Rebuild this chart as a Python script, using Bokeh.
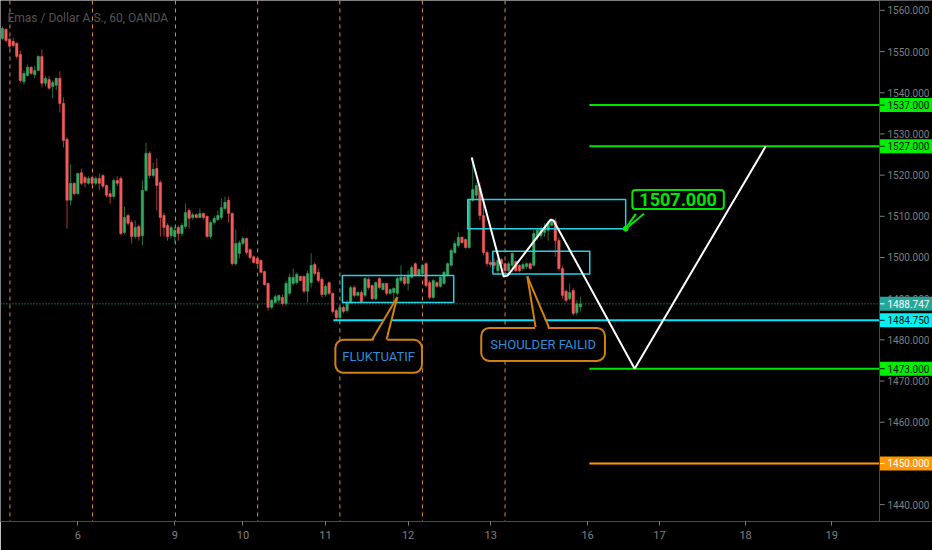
from bokeh.plotting import figure
from bokeh.models import Range1d, FixedTicker, Span, Label, ColumnDataSource
from bokeh.core.properties import value
from bokeh.embed import file_html
from bokeh.resources import INLINE

# ---------------- data ----------------
opens = [1553.2, 1555.4, 1553.0, 1552.5, 1552.0, 1549.3, 1542.7, 1544.2, 1546.2, 1544.4,
         1545.4, 1548.8, 1542.3, 1543.2, 1541.5, 1541.8, 1543.5, 1537.4, 1528.7, 1513.9,
         1518.0, 1515.5, 1520.6, 1519.4, 1518.0, 1519.4, 1518.0, 1519.2, 1519.9, 1517.5,
         1515.5, 1514.8, 1518.7, 1519.2, 1506.1, 1510.2, 1508.5, 1505.1, 1507.5, 1505.3,
         1516.3, 1525.3, 1519.9, 1521.6, 1518.2, 1510.2, 1507.8, 1505.3, 1505.1, 1507.3,
         1505.8, 1507.5, 1511.4, 1509.7, 1510.4, 1509.7, 1510.7, 1510.0, 1505.1, 1508.5,
         1509.2, 1509.7, 1511.9, 1513.9, 1510.7, 1498.5, 1501.0, 1503.4, 1504.6, 1501.9,
         1500.2, 1499.8, 1499.3, 1496.6, 1493.7, 1487.9, 1489.1, 1489.6, 1490.3, 1488.8,
         1491.3, 1493.7, 1493.9, 1495.4, 1495.4, 1491.8, 1493.9, 1498.3, 1496.4, 1494.7,
         1491.0, 1493.9, 1491.3, 1487.1, 1485.4, 1487.9, 1487.1, 1489.1, 1492.7, 1490.8,
         1491.5, 1490.8, 1494.7, 1493.2, 1490.0, 1494.9, 1492.2, 1493.7, 1491.3, 1491.5,
         1491.3, 1494.4, 1495.2, 1493.7, 1495.2, 1498.5, 1495.6, 1496.1, 1498.5, 1493.9,
         1490.3, 1493.9, 1493.0, 1493.7, 1495.6, 1498.1, 1501.2, 1502.9, 1504.9, 1504.4,
         1502.4, 1513.9, 1515.1, 1516.8, 1510.2, 1501.2, 1498.8, 1498.8, 1496.8, 1499.5,
         1498.5, 1496.8, 1498.1, 1499.0, 1498.1, 1497.3, 1497.8, 1498.5, 1498.1, 1504.9,
         1505.3, 1506.1, 1506.6, 1507.8, 1508.8, 1504.1, 1497.3, 1491.8, 1490.0, 1492.0,
         1486.6, 1488.0]
highs = [1556.1, 1555.6, 1553.4, 1553.4, 1552.2, 1550.3, 1545.4, 1546.9, 1546.4, 1546.6,
         1549.1, 1550.5, 1544.0, 1544.0, 1543.0, 1543.7, 1545.2, 1538.9, 1529.2, 1522.6,
         1518.2, 1520.6, 1521.6, 1519.9, 1519.7, 1519.9, 1519.7, 1520.4, 1520.2, 1517.7,
         1516.3, 1519.2, 1519.7, 1519.7, 1512.4, 1510.7, 1509.0, 1509.0, 1508.0, 1518.7,
         1527.9, 1525.8, 1523.1, 1524.0, 1518.7, 1510.9, 1508.3, 1507.8, 1507.8, 1507.8,
         1508.3, 1513.1, 1511.9, 1510.9, 1510.7, 1511.9, 1510.9, 1510.2, 1509.0, 1510.2,
         1511.4, 1514.3, 1514.8, 1514.8, 1510.9, 1506.8, 1504.1, 1505.1, 1504.9, 1502.2,
         1500.5, 1500.0, 1499.5, 1496.8, 1493.9, 1490.0, 1491.0, 1491.0, 1491.0, 1494.4,
         1496.1, 1497.3, 1496.4, 1495.6, 1495.6, 1496.8, 1501.0, 1498.8, 1497.3, 1495.2,
         1493.4, 1494.2, 1491.5, 1487.6, 1488.3, 1488.3, 1489.6, 1493.2, 1493.2, 1491.8,
         1492.0, 1495.2, 1495.2, 1493.4, 1494.2, 1495.2, 1493.9, 1493.9, 1492.5, 1492.7,
         1495.4, 1498.1, 1495.6, 1496.8, 1498.1, 1498.8, 1497.3, 1498.5, 1498.8, 1494.4,
         1494.9, 1494.2, 1495.4, 1496.8, 1498.8, 1502.2, 1504.1, 1506.1, 1505.1, 1504.6,
         1514.3, 1524.3, 1518.2, 1518.2, 1514.3, 1501.7, 1499.3, 1499.8, 1500.0, 1499.8,
         1498.8, 1499.0, 1501.2, 1499.3, 1498.3, 1498.8, 1498.8, 1498.8, 1506.6, 1507.0,
         1507.5, 1508.3, 1509.0, 1509.5, 1509.5, 1504.9, 1497.8, 1492.2, 1493.7, 1492.5,
         1489.6, 1490.5]
lows = [1552.7, 1552.2, 1550.8, 1551.0, 1548.3, 1542.5, 1542.0, 1544.0, 1544.4, 1543.5,
        1545.2, 1541.3, 1541.5, 1540.8, 1538.6, 1540.6, 1535.2, 1526.7, 1507.0, 1512.6,
        1515.1, 1515.3, 1517.5, 1517.0, 1517.7, 1517.5, 1517.5, 1516.3, 1516.8, 1514.6,
        1513.1, 1514.3, 1517.3, 1505.4, 1505.6, 1507.8, 1503.4, 1504.6, 1504.1, 1502.9,
        1516.0, 1519.2, 1519.4, 1511.4, 1505.1, 1505.1, 1504.1, 1504.6, 1503.6, 1504.1,
        1505.1, 1507.0, 1507.0, 1509.2, 1509.5, 1509.5, 1509.2, 1504.8, 1504.6, 1508.0,
        1508.8, 1509.2, 1511.4, 1508.5, 1498.0, 1498.0, 1499.8, 1502.9, 1500.7, 1499.5,
        1498.5, 1497.8, 1496.1, 1493.2, 1487.1, 1487.4, 1488.8, 1488.8, 1488.3, 1488.3,
        1490.8, 1493.2, 1493.4, 1494.2, 1491.3, 1489.1, 1492.7, 1495.6, 1493.9, 1490.3,
        1490.5, 1490.8, 1486.4, 1484.75, 1484.9, 1486.4, 1486.6, 1488.8, 1490.3, 1490.5,
        1489.1, 1490.3, 1492.2, 1489.6, 1489.6, 1492.2, 1492.0, 1490.8, 1491.0, 1489.1,
        1490.8, 1493.9, 1493.2, 1492.0, 1494.9, 1495.4, 1495.4, 1495.6, 1492.7, 1489.8,
        1490.0, 1492.7, 1492.7, 1493.4, 1495.4, 1497.8, 1500.9, 1502.4, 1503.4, 1502.2,
        1502.2, 1513.6, 1513.9, 1509.0, 1500.5, 1497.8, 1497.6, 1497.3, 1496.1, 1498.0,
        1495.4, 1496.4, 1496.4, 1496.6, 1496.4, 1496.8, 1497.3, 1497.1, 1497.8, 1504.1,
        1504.6, 1505.1, 1504.1, 1507.5, 1500.2, 1496.8, 1490.0, 1489.1, 1489.6, 1485.9,
        1485.9, 1486.9]
closes = [1555.6, 1552.7, 1551.3, 1551.5, 1548.8, 1543.0, 1544.7, 1546.2, 1544.7, 1545.4,
          1548.8, 1542.3, 1543.5, 1541.1, 1542.5, 1543.5, 1537.4, 1528.4, 1513.9, 1518.0,
          1515.5, 1520.4, 1518.0, 1518.2, 1519.2, 1518.0, 1519.2, 1518.0, 1517.3, 1515.1,
          1514.8, 1518.7, 1518.0, 1505.8, 1509.7, 1508.3, 1505.1, 1507.3, 1505.1, 1516.3,
          1525.3, 1519.9, 1521.4, 1517.5, 1509.7, 1507.3, 1505.1, 1507.3, 1506.6, 1505.8,
          1507.8, 1510.9, 1509.5, 1510.4, 1509.7, 1510.7, 1509.7, 1505.1, 1508.5, 1509.5,
          1510.2, 1512.1, 1513.4, 1510.7, 1498.5, 1503.4, 1503.6, 1504.6, 1501.2, 1500.0,
          1498.8, 1498.5, 1496.4, 1493.4, 1487.9, 1489.6, 1490.5, 1490.8, 1488.8, 1493.7,
          1495.2, 1495.2, 1495.9, 1494.4, 1491.8, 1496.1, 1498.1, 1496.1, 1494.4, 1491.0,
          1493.0, 1491.3, 1486.9, 1485.4, 1487.9, 1486.9, 1489.1, 1492.7, 1490.8, 1491.5,
          1489.3, 1494.9, 1492.7, 1490.0, 1493.9, 1492.7, 1493.7, 1491.3, 1492.2, 1492.5,
          1494.9, 1495.2, 1493.7, 1495.6, 1497.6, 1495.6, 1497.1, 1498.1, 1493.2, 1490.3,
          1494.4, 1493.0, 1495.2, 1496.4, 1498.5, 1501.7, 1503.4, 1504.9, 1503.6, 1502.4,
          1513.9, 1516.5, 1517.5, 1510.2, 1501.2, 1498.5, 1498.3, 1498.1, 1499.3, 1498.5,
          1496.8, 1498.5, 1501.0, 1496.8, 1496.8, 1498.3, 1498.5, 1497.3, 1505.8, 1506.6,
          1506.8, 1507.3, 1508.3, 1509.0, 1504.1, 1497.3, 1490.8, 1489.6, 1491.5, 1486.4,
          1488.8, 1488.747]

# x axis (hour bars) day labels
day_ticks = [21, 48, 67, 90, 113, 136, 163, 183, 207, 231]
day_labels = ["6", "9", "10", "11", "12", "13", "16", "17", "18", "19"]
session_breaks = [2.1, 25.1, 48.2, 71.1, 94.0, 117.0, 140.0]
price_ticks = [1440, 1450, 1460, 1470, 1480, 1490, 1500, 1510, 1520, 1530, 1540, 1550, 1560]

last_price = 1488.747
support_level = 1484.75
support_start = 92.2

target_levels = [1537.0, 1527.0, 1473.0, 1450.0]
target_colors = ["#00e600", "#00e600", "#00e600", "#ff9800"]
target_start = 163.5

# analysis boxes (bar index / price)
box_left = [94.7, 129.6, 136.6]
box_right = [125.7, 173.6, 163.6]
box_bottom = [1489.1, 1507.0, 1496.0]
box_top = [1495.6, 1514.1, 1501.5]

# white projection path
path_x = [130.7, 139.6, 140.7, 152.7, 153.5, 176.1, 212.6]
path_y = [1524.3, 1495.4, 1495.6, 1509.2, 1509.0, 1473.0, 1527.0]

# price tags on the price scale
tag_levels = [1537.0, 1527.0, 1488.747, 1484.75, 1473.0, 1450.0]
tag_bg = ["#00ee00", "#00ee00", "#26a69a", "#00f2f2", "#00ee00", "#ff9800"]
tag_fg = ["#0a0a0a", "#0a0a0a", "#ffffff", "#0a0a0a", "#0a0a0a", "#ffffff"]

# ---------------- figure ----------------
X0 = -0.53            # left edge of the chart
AXIS_X = 244.3        # position of the price scale (right edge of the chart pane)
X_END = 259.06        # right edge of the price-scale strip
Y0, Y1 = 1435.9, 1562.4

p = figure(width=932, height=550, x_range=Range1d(X0, X_END), y_range=Range1d(Y0, Y1),
           y_axis_location=None, output_backend="svg", toolbar_location=None,
           background_fill_color="black", border_fill_color="black",
           min_border_left=0, min_border_top=0, min_border_right=0, min_border_bottom=29)
p.outline_line_color = None
p.grid.visible = False

AX_FONT = "Roboto"
GREY = "#7f7f7f"

xax = p.xaxis[0]
xax.ticker = FixedTicker(ticks=day_ticks)
xax.major_label_overrides = {t: s for t, s in zip(day_ticks, day_labels)}
xax.major_label_text_color = GREY
xax.major_label_text_font_size = "11px"
xax.major_label_text_font = AX_FONT
xax.axis_line_color = "#4a4a4a"
xax.major_tick_line_color = GREY
xax.major_tick_out = 4
xax.major_tick_in = 0
xax.minor_tick_line_color = None
xax.major_label_standoff = 5

for sb in session_breaks:
    p.add_layout(Span(location=sb, dimension="height", line_color="#e0901a",
                      line_dash="4 4", line_width=1, level="underlay"))

# current price dotted line (chart pane only)
p.segment(x0=[X0], y0=[last_price], x1=[AXIS_X], y1=[last_price],
          line_color="#2bb3a7", line_dash="1 2", line_width=1)

# candles
n = len(opens)
bars = list(range(n))
is_up = [c >= o for o, c in zip(opens, closes)]


def pick(seq, flag):
    return [v for v, u in zip(seq, is_up) if u == flag]


for flag, body, wick in [(True, "#36a862", "#1f6e40"), (False, "#f25a5a", "#a33838")]:
    o = pick(opens, flag)
    c = pick(closes, flag)
    src = ColumnDataSource(dict(x=pick(bars, flag), h=pick(highs, flag), l=pick(lows, flag),
                                top=[max(a, b) for a, b in zip(o, c)],
                                bot=[min(a, b) for a, b in zip(o, c)]))
    p.segment(x0="x", y0="l", x1="x", y1="h", source=src, line_color=wick, line_width=1)
    p.vbar(x="x", width=0.68, top="top", bottom="bot", source=src,
           fill_color=body, line_color=body, line_width=0.5)

# analysis drawings
p.quad(left=box_left, right=box_right, top=box_top, bottom=box_bottom,
       fill_alpha=0, line_color="#22d3e6", line_width=1.5)
p.segment(x0=[support_start], y0=[support_level], x1=[AXIS_X], y1=[support_level],
          line_color="#00e5ff", line_width=2)
p.segment(x0=[target_start] * len(target_levels), y0=target_levels,
          x1=[AXIS_X] * len(target_levels), y1=target_levels,
          line_color=target_colors, line_width=2)
p.line(path_x, path_y, line_color="white", line_width=2)

# callouts
ORANGE = "#d0810f"
BLUE = "#2a8fd8"
callouts = [
    dict(text="FLUKTUATIF", x=104.8, y=1476.0, border=ORANGE, color=BLUE, size="13px",
         style="normal", pad=dict(left=7, right=7, top=9, bottom=9), radius=8),
    dict(text="SHOULDER FAILID", x=150.6, y=1478.9, border=ORANGE, color=BLUE, size="13px",
         style="normal", pad=dict(left=9, right=9, top=9, bottom=9), radius=8),
    dict(text="1507.000", x=188.2, y=1514.1, border="#00e600", color="#00e600", size="18px",
         style="bold", pad=dict(left=7, right=7, top=3, bottom=3), radius=3),
]
for c in callouts:
    p.add_layout(Label(x=c["x"], y=c["y"], text=c["text"], text_align="center",
                       text_baseline="middle", text_color=c["color"], text_font="Roboto",
                       text_font_size=c["size"], text_font_style=c["style"],
                       background_fill_color="black", border_line_color=c["border"],
                       border_line_width=2, border_radius=c["radius"], padding=c["pad"]))

# pointers: (base left x, base right x, base y, tip x, tip y, inner y, colour)
pointers = [
    (103.0, 107.0, 1480.1, 110.0, 1490.4, 1479.3, ORANGE),
    (148.5, 152.2, 1483.1, 146.2, 1495.4, 1482.3, ORANGE),
    (176.4, 178.7, 1510.6, 173.6, 1507.0, 1511.4, "#00e600"),
]
for bl, br, by, tx, ty, iy, col in pointers:
    tri = p.patch([bl, br, tx], [iy, iy, ty], fill_color="black", line_color=None)
    tri.level = "overlay"
    s1 = p.line([bl, tx], [by, ty], line_color=col, line_width=2)
    s1.level = "overlay"
    s2 = p.line([br, tx], [by, ty], line_color=col, line_width=2)
    s2.level = "overlay"
dot = p.scatter([173.6], [1507.0], size=5, color="#00e600")
dot.level = "overlay"

# ---------------- price scale (right strip) ----------------
TICK_LEN = 1.4        # in bar units (~5px)
LABEL_X = AXIS_X + 2.2
TAG_HALF = 1.7        # half height of a price tag in price units
p.rect(x=[(AXIS_X + X_END) / 2], y=[(Y0 + Y1) / 2], width=X_END - AXIS_X, height=Y1 - Y0,
       fill_color="black", line_color=None)
p.segment(x0=[AXIS_X] * len(price_ticks), y0=price_ticks,
          x1=[AXIS_X + TICK_LEN] * len(price_ticks), y1=price_ticks, line_color=GREY)
p.text(x=[LABEL_X] * len(price_ticks), y=price_ticks,
       text=[f"{v:.3f}" for v in price_ticks], text_color=GREY, text_font=value(AX_FONT),
       text_font_size="10px", text_baseline="middle", text_align="left")
p.quad(left=[AXIS_X] * len(tag_levels), right=[X_END + 1] * len(tag_levels),
       top=[v + TAG_HALF for v in tag_levels], bottom=[v - TAG_HALF for v in tag_levels],
       fill_color=tag_bg, line_color=None)
p.segment(x0=[AXIS_X] * len(tag_levels), y0=tag_levels,
          x1=[AXIS_X + TICK_LEN] * len(tag_levels), y1=tag_levels, line_color=tag_fg)
p.text(x=[LABEL_X] * len(tag_levels), y=tag_levels,
       text=[f"{v:.3f}" for v in tag_levels], text_color=tag_fg, text_font=value(AX_FONT),
       text_font_size="10px", text_baseline="middle", text_align="left")
p.add_layout(Span(location=AXIS_X, dimension="height", line_color="#4a4a4a", line_width=1))

# chart title
p.add_layout(Label(x=1.4, y=1558.1, text="Emas / Dollar A.S., 60, OANDA", text_align="left",
                   text_baseline="middle", text_color="#555555", text_font="Roboto",
                   text_font_size="12px"))

open("out.html", "w").write(file_html(p, INLINE))
